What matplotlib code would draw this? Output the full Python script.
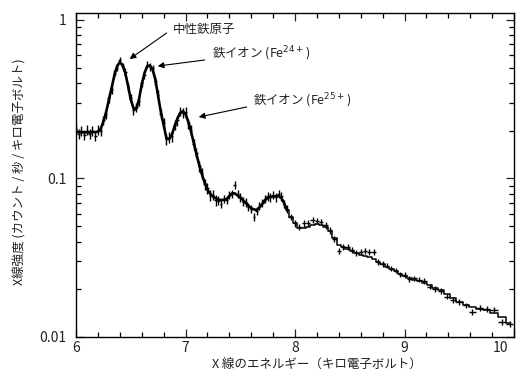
import matplotlib
matplotlib.use("Agg")
import matplotlib.pyplot as plt
from matplotlib.ticker import MultipleLocator, LogLocator, NullFormatter, FixedLocator, FixedFormatter
from matplotlib.transforms import ScaledTranslation

plt.rcParams['font.family'] = ['Noto Sans CJK JP', 'DejaVu Sans']
plt.rcParams['mathtext.fontset'] = 'dejavusans'

# ---------------- data ----------------
energy = [
    6.000, 6.025, 6.050, 6.075, 6.100, 6.125, 6.150, 6.175, 6.200, 6.225,
    6.250, 6.275, 6.300, 6.325, 6.350, 6.375, 6.400, 6.425, 6.450, 6.475,
    6.500, 6.525, 6.550, 6.575, 6.600, 6.625, 6.650, 6.675, 6.700, 6.725,
    6.750, 6.775, 6.800, 6.825, 6.850, 6.875, 6.900, 6.925, 6.950, 6.975,
    7.000, 7.025, 7.050, 7.075, 7.100, 7.125, 7.150, 7.175, 7.200, 7.225,
    7.250, 7.275,
    7.300, 7.325, 7.350, 7.375, 7.400, 7.425, 7.450, 7.475, 7.500, 7.525,
    7.550, 7.575, 7.600, 7.625, 7.650, 7.675, 7.700, 7.725, 7.750, 7.775,
    7.800, 7.825, 7.850, 7.875, 7.900, 7.925,
    7.96, 8.00, 8.04, 8.08, 8.12, 8.16, 8.20, 8.24, 8.28, 8.32, 8.36, 8.40,
    8.44, 8.48, 8.52, 8.56, 8.60, 8.64, 8.68, 8.72, 8.76, 8.80,
    8.84, 8.88, 8.92, 8.96, 9.00, 9.045, 9.09, 9.135, 9.18, 9.23, 9.28,
    9.33, 9.385, 9.44, 9.50, 9.56, 9.62, 9.685, 9.75, 9.82, 9.89, 9.96,
]

energy_halfwidth = (
    [0.0125] * 78
    + [0.02] * 22
    + [0.02, 0.02, 0.02, 0.02, 0.02, 0.0225, 0.0225, 0.0225, 0.0225,
       0.025, 0.025, 0.025, 0.0275, 0.0275, 0.03, 0.03, 0.0325, 0.0325,
       0.035, 0.035, 0.035, 0.035]
)

counts = [
    0.205, 0.190, 0.200, 0.188, 0.202, 0.191, 0.199, 0.186, 0.203, 0.200,
    0.232, 0.255, 0.320, 0.365, 0.455, 0.500, 0.555, 0.510, 0.470, 0.378,
    0.322, 0.270, 0.280, 0.308, 0.398, 0.452, 0.522, 0.505, 0.495, 0.412,
    0.338, 0.255, 0.224, 0.176, 0.181, 0.184, 0.218, 0.232, 0.264, 0.258,
    0.262, 0.222, 0.202, 0.164, 0.145, 0.119, 0.108, 0.092, 0.087, 0.078,
    0.079, 0.073,
    0.0725, 0.0690, 0.0745, 0.0728, 0.0790, 0.0800, 0.0910, 0.0795, 0.0760, 0.0715,
    0.0705, 0.0660, 0.0640, 0.0573, 0.0625, 0.0670, 0.0700, 0.0745, 0.0770, 0.0760,
    0.0785, 0.0760, 0.0800, 0.0770, 0.0690, 0.0645,
    0.0570, 0.0520, 0.0495, 0.0520, 0.0525, 0.0545, 0.0540, 0.0530, 0.0505, 0.0470,
    0.0415, 0.0350,
    0.0372, 0.0372, 0.0352, 0.0340, 0.0345, 0.0347, 0.0345, 0.0342, 0.0297, 0.0290,
    0.0282, 0.0270, 0.0262, 0.0248, 0.0246, 0.0232, 0.0234, 0.0230, 0.0225, 0.0208,
    0.0201, 0.0196, 0.0180, 0.0172, 0.0166, 0.0158, 0.0144, 0.0152, 0.0150, 0.0149,
    0.0124, 0.0121,
]

counts_err = [
    0.015, 0.014, 0.015, 0.014, 0.015, 0.014, 0.015, 0.014, 0.015, 0.015,
    0.016, 0.017, 0.020, 0.022, 0.025, 0.027, 0.029, 0.027, 0.026, 0.022,
    0.020, 0.018, 0.019, 0.020, 0.023, 0.026, 0.028, 0.027, 0.027, 0.024,
    0.021, 0.018, 0.016, 0.014, 0.014, 0.014, 0.016, 0.017, 0.018, 0.018,
    0.018, 0.016, 0.015, 0.012, 0.011, 0.0092, 0.0084, 0.0072, 0.0068, 0.0062,
    0.0060, 0.0056,
    0.0044, 0.0042, 0.0045, 0.0043, 0.0047, 0.0048, 0.0052, 0.0048, 0.0046, 0.0043,
    0.0042, 0.0040, 0.0038, 0.0036, 0.0037, 0.0040, 0.0042, 0.0044, 0.0046, 0.0046,
    0.0047, 0.0046, 0.0048, 0.0046, 0.0042, 0.0038,
    0.0026, 0.0024, 0.0023, 0.0024, 0.0024, 0.0025, 0.0025, 0.0024, 0.0023, 0.0022,
    0.0019, 0.0016,
    0.0016, 0.0016, 0.0015, 0.0015, 0.0015, 0.0015, 0.0015, 0.0015, 0.0013, 0.0013,
    0.0011, 0.0011, 0.0010, 0.0010, 0.0010, 0.0009, 0.0009, 0.0009, 0.0009, 0.0008,
    0.0008, 0.0008, 0.0007, 0.0007, 0.0007, 0.0006, 0.0006, 0.0006, 0.0006, 0.0006,
    0.0005, 0.0005,
]

model = [
    0.197, 0.196, 0.195, 0.195, 0.195, 0.195, 0.196, 0.196, 0.197, 0.205,
    0.228, 0.262, 0.312, 0.372, 0.445, 0.510, 0.540, 0.518, 0.462, 0.385,
    0.315, 0.277, 0.274, 0.315, 0.390, 0.460, 0.510, 0.515, 0.485, 0.420,
    0.330, 0.262, 0.218, 0.180, 0.177, 0.188, 0.213, 0.237, 0.258, 0.265,
    0.255, 0.228, 0.198, 0.168, 0.142, 0.122, 0.106, 0.094, 0.085, 0.080,
    0.077, 0.075,
    0.0735, 0.0731, 0.0733, 0.0738, 0.0775, 0.0805, 0.0805, 0.0780, 0.0755, 0.0728,
    0.0700, 0.0672, 0.0648, 0.0638, 0.0632, 0.0655, 0.0690, 0.0728, 0.0755, 0.0766,
    0.0770, 0.0772, 0.0774, 0.0755, 0.0700, 0.0632,
    0.0570, 0.0520, 0.0490, 0.0485, 0.0492, 0.0505, 0.0515, 0.0512, 0.0496, 0.0466,
    0.0420, 0.0380,
    0.0371, 0.0360, 0.0348, 0.0337, 0.0330, 0.0323, 0.0318, 0.0311, 0.0298, 0.0287,
    0.0278, 0.0268, 0.0259, 0.0251, 0.0244, 0.0236, 0.0230, 0.0225, 0.0220, 0.0213,
    0.0205, 0.0197, 0.0186, 0.0176, 0.0167, 0.0160, 0.0155, 0.0151, 0.0147, 0.0142,
    0.0133, 0.0123,
]
n_fine = 78  # bins on the fine energy grid (model drawn as a smooth line there)

y_major = [0.01, 0.1, 1]
y_major_labels = ['0.01', '0.1', '1']
x_major = [6, 7, 8, 9, 10]
x_major_labels = ['6', '7', '8', '9', '10']

label_neutral = '中性鉄原子'
label_fe24 = '鉄イオン (Fe$^{24+}$)'
label_fe25 = '鉄イオン (Fe$^{25+}$)'
xlabel = 'X 線のエネルギー（キロ電子ボルト）'
ylabel = 'X線強度 (カウント / 秒 / キロ電子ボルト)'

# ---------------- figure ----------------
fig = plt.figure(figsize=(5.26, 3.73), dpi=100)
ax = fig.add_axes([76 / 526, 1 - 337 / 373, 438 / 526, 324 / 373])

ax.errorbar(energy, counts, yerr=counts_err, xerr=energy_halfwidth, fmt='none',
            ecolor='black', elinewidth=1.0, capsize=0, zorder=2)
ax.plot(energy[:n_fine], model[:n_fine], color='black', lw=1.9, zorder=3)
ax.plot(energy[n_fine - 1:], model[n_fine - 1:], drawstyle='steps-mid',
        color='black', lw=1.1, zorder=3)

ax.set_yscale('log')
ax.set_xlim(6, 10)
ax.set_ylim(0.01, 1.104)

ax.yaxis.set_major_locator(FixedLocator(y_major))
ax.yaxis.set_major_formatter(FixedFormatter(y_major_labels))
ax.yaxis.set_minor_locator(LogLocator(base=10, subs=[2, 3, 4, 5, 6, 7, 8, 9]))
ax.yaxis.set_minor_formatter(NullFormatter())
ax.xaxis.set_major_locator(FixedLocator(x_major))
ax.xaxis.set_major_formatter(FixedFormatter(x_major_labels))
ax.xaxis.set_minor_locator(MultipleLocator(0.2))

ax.tick_params(which='both', direction='in', top=True, right=True, color='black', width=0.9)
ax.tick_params(which='major', length=6)
ax.tick_params(which='minor', length=3.5)
ax.tick_params(axis='both', labelsize=10, colors='#222222')
ax.tick_params(axis='y', pad=7)
ax.tick_params(axis='x', pad=3)
for s in ax.spines.values():
    s.set_linewidth(1.0)

# shift the "10" tick label left, as in the original
fig.canvas.draw()
last = ax.xaxis.get_major_ticks()[-1]
last.label1.set_transform(last.label1.get_transform()
                          + ScaledTranslation(-14 / 100, 0, fig.dpi_scale_trans))

ax.set_xlabel(xlabel, fontsize=9, color='#222222')
ax.xaxis.set_label_coords(0.55, -0.068)
ax.set_ylabel(ylabel, fontsize=9, color='#222222')
ax.yaxis.set_label_coords(-0.112, 0.51)

arrow = dict(arrowstyle='-|>', color='black', lw=0.8, mutation_scale=9,
             shrinkA=0, shrinkB=0)
ax.annotate('', xy=(6.490, 0.566), xytext=(6.828, 0.826), arrowprops=arrow)
ax.text(6.883, 0.875, label_neutral, fontsize=9, va='center', ha='left', color='#222222')
ax.annotate('', xy=(6.746, 0.511), xytext=(7.175, 0.558), arrowprops=arrow)
ax.text(7.239, 0.608, label_fe24, fontsize=9, va='center', ha='left', color='#222222')
ax.annotate('', xy=(7.121, 0.2438), xytext=(7.559, 0.282), arrowprops=arrow)
ax.text(7.614, 0.3076, label_fe25, fontsize=9, va='center', ha='left', color='#222222')

fig.savefig('out.png', dpi=100)
